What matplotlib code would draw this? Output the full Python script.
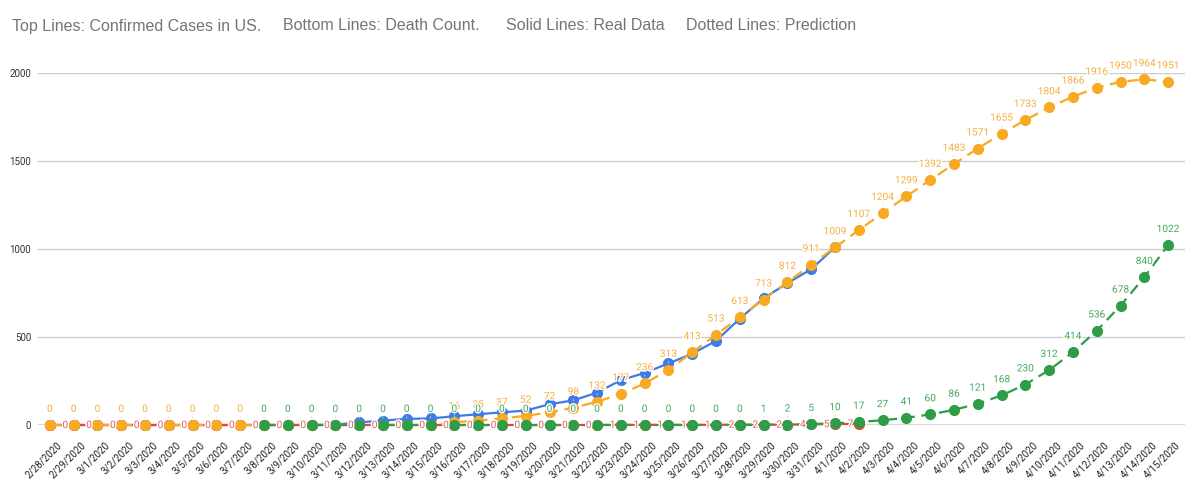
import numpy as np
import pandas as pd
import matplotlib
matplotlib.use("Agg")
import matplotlib.pyplot as plt
import matplotlib.transforms as mtrans
import matplotlib.patheffects as pe

plt.rcParams['font.family'] = ['Roboto', 'DejaVu Sans']

# x categories: 2/28/2020 .. 4/15/2020
dates = [f"{d.month}/{d.day}/{d.year}" for d in pd.date_range("2020-02-28", "2020-04-15")]

# real confirmed (blue, solid) 2/28 .. 4/1
real_cases = [0, 0, 0, 0, 0, 0, 0, 0, 0, 0, 0, 0,
              2, 15, 25, 35, 37, 50, 61, 72, 82, 118, 140, 184,
              255, 296, 350, 405, 478, 605, 720, 806, 885, 1010]
# predicted confirmed (orange, dashed) 2/28 .. 4/15
pred_cases = [0] * 17 + [16, 25, 37, 52, 72, 98, 132, 177, 236, 313,
                         413, 513, 613, 713, 812, 911, 1009, 1107, 1204, 1299,
                         1392, 1483, 1571, 1655, 1733, 1804, 1866, 1916, 1950, 1964,
                         1951]
# real deaths (red, solid) 2/28 .. 4/2
real_deaths = [0] * 24 + [1, 1, 1, 1, 1, 2, 2, 2, 4, 5, 7]
# predicted deaths (green, dashed) 3/8 .. 4/15
pred_deaths = [0] * 21 + [1, 2, 5, 10, 17, 27, 41, 60, 86, 121, 168, 230,
                          312, 414, 536, 678, 840, 1022]

BLUE = '#3d7be6'
RED = '#e2453a'
ORANGE = '#f8aa22'
GREEN = '#2e9d48'

fig = plt.figure(figsize=(12, 4.9), dpi=100)
ax = fig.add_axes([38/1200, 1-425/490, 1147/1200, 352/490])

n = len(dates)
xs = np.arange(n)
g0 = n - len(pred_deaths)

ax.plot(xs[:len(real_cases)], real_cases, '-o', color=BLUE, lw=1.6, ms=7,
        clip_on=False, zorder=3)
ax.plot(xs[:len(real_deaths)], real_deaths, '-o', color=RED, lw=1.6, ms=7,
        clip_on=False, zorder=4)
ax.plot(xs, pred_cases, '--o', color=ORANGE, lw=1.6, ms=7, dashes=(5, 3),
        clip_on=False, zorder=5)
ax.plot(xs[g0:], pred_deaths, '--o', color=GREEN, lw=1.6, ms=7, dashes=(5, 3),
        clip_on=False, zorder=6)

halo = [pe.withStroke(linewidth=2, foreground='white')]
lead = dict(arrowstyle='-', color='#dddddd', lw=0.6, shrinkA=0, shrinkB=5)
lab_kw = dict(fontsize=7.3, ha='center', va='bottom', zorder=8, path_effects=halo,
              xytext=(0, 8), textcoords='offset points', arrowprops=lead)
for i, v in enumerate(pred_cases):
    if g0 <= i and v == 0:
        continue
    ax.annotate(str(v), (i, v), color='#f5b041', **lab_kw)
for i, v in enumerate(pred_deaths):
    ax.annotate(str(v), (g0 + i, v), color='#45a85f', **lab_kw)
for i, v in enumerate(real_deaths):
    if i == 0:
        continue
    ax.annotate(str(v), (i, v), xytext=(-6, 0), textcoords='offset points',
                color='#e06060', fontsize=7.3, ha='center', va='center', zorder=7,
                path_effects=halo)

ax.set_xlim(-0.5, 47.71)
ax.set_ylim(0, 2000)
for y in [500, 1000, 1500, 2000]:
    ax.axhline(y, color='#cccccc', lw=1, zorder=0)
ax.axhline(0, color='#333333', lw=1, zorder=1)
for s in ax.spines.values():
    s.set_visible(False)
ax.set_yticks([0, 500, 1000, 1500, 2000])
ax.set_yticklabels(['0', '500', '1000', '1500', '2000'], fontsize=7, color='#333333')
ax.set_xticks(xs)
ax.set_xticklabels(dates, rotation=45, ha='right', rotation_mode='anchor',
                   fontsize=7, color='#222222')
ax.tick_params(length=0, pad=5)
ax.tick_params(axis='x', pad=11)
shift = mtrans.ScaledTranslation(7/100, 0, fig.dpi_scale_trans)
for lbl in ax.get_xticklabels():
    lbl.set_transform(lbl.get_transform() + shift)

title_parts = [("Top Lines: Confirmed Cases in US.", 12),
               ("Bottom Lines: Death Count.", 283),
               ("Solid Lines: Real Data", 506),
               ("Dotted Lines: Prediction", 686)]
for txt, px in title_parts:
    fig.text(px/1200, 1-26/490, txt, fontsize=11.5, color='#757575',
             family=['Liberation Sans', 'DejaVu Sans'], va='center', ha='left')

fig.savefig('out.png', dpi=100)
